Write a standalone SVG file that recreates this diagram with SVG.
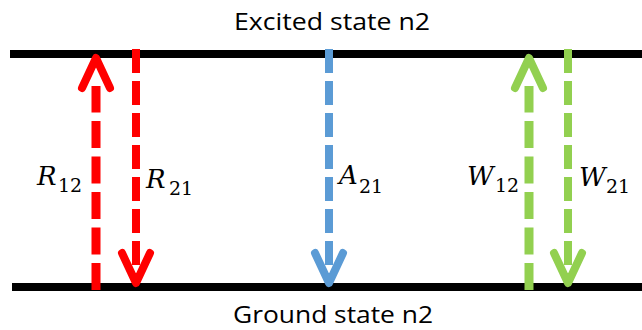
<svg xmlns="http://www.w3.org/2000/svg" width="642" height="330" viewBox="0 0 642 330">
<style>
.lvl{stroke:#000;stroke-width:8;fill:none}
.ttl{font-family:"Open Sans","Liberation Sans",sans-serif;font-size:23px;fill:#000}
.up{stroke-width:9;stroke-dasharray:27 8.5;fill:none}
.dn{stroke-width:8;stroke-dasharray:24 8;fill:none}
.hd{stroke-width:8;fill:none;stroke-linecap:round;stroke-linejoin:round}
.red{stroke:#FF0000}.blue{stroke:#5B9BD5}.green{stroke:#92D050}
.sym{font-family:"DejaVu Serif","Liberation Serif",serif;font-style:italic;font-size:26px;fill:#000}
.sub{font-family:"DejaVu Serif","Liberation Serif",serif;font-size:19px;fill:#000}
</style>
<g id="excited">
<line class="lvl" x1="10" y1="54" x2="642" y2="54"/>
<text class="ttl" x="234" y="30" textLength="196" lengthAdjust="spacingAndGlyphs">Excited state n2</text>
</g>
<g id="ground">
<line class="lvl" x1="12" y1="287" x2="642" y2="287"/>
<text class="ttl" x="233" y="323" textLength="200" lengthAdjust="spacingAndGlyphs">Ground state n2</text>
</g>
<g id="connectors">
<path class="up red" d="M96,290 V86"/>
<path class="hd red" d="M82,88 L96,58 L110,88"/>
<path class="dn red" d="M136,49 V281"/>
<path class="hd red" d="M122,253 L136,283 L150,253"/>
<path class="dn blue" d="M329,49 V281"/>
<path class="hd blue" d="M315,253 L329,283 L343,253"/>
<path class="up green" d="M529,290 V86"/>
<path class="hd green" d="M515,88 L529,58 L543,88"/>
<path class="dn green" d="M568,49 V281"/>
<path class="hd green" d="M554,253 L568,283 L582,253"/>
</g>
<g id="label-R12"><text class="sym" x="37" y="185">R</text><text class="sub" x="58" y="192">12</text></g>
<g id="label-R21"><text class="sym" x="146" y="188">R</text><text class="sub" x="169" y="195">21</text></g>
<g id="label-A21"><text class="sym" x="339" y="184">A</text><text class="sub" x="359" y="193">21</text></g>
<g id="label-W12"><text class="sym" x="467" y="185">W</text><text class="sub" x="495" y="192">12</text></g>
<g id="label-W21"><text class="sym" x="579" y="186">W</text><text class="sub" x="606" y="193">21</text></g>
</svg>
